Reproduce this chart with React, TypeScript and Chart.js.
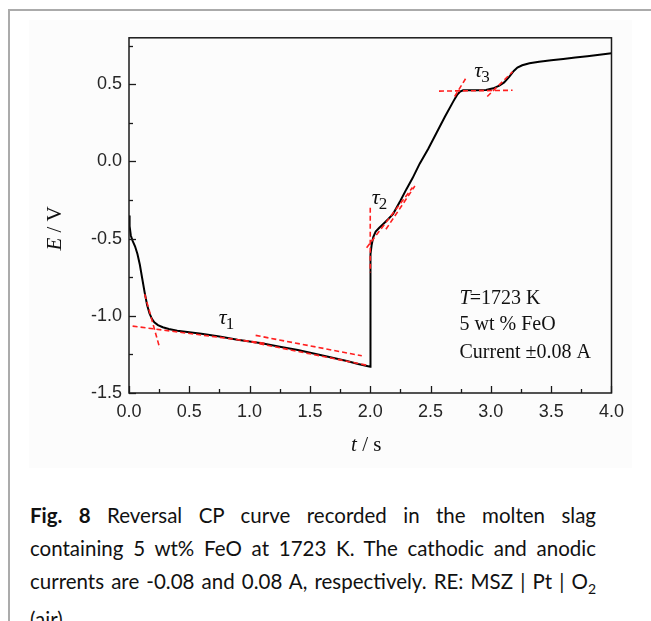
import React, { useEffect, useRef } from "react";
import { Chart, registerables } from "chart.js";

Chart.register(...registerables);

// ---- data ----
const timeS = [
  0.0, 0.005, 0.015, 0.03, 0.05, 0.07, 0.09, 0.11, 0.13, 0.15, 0.17, 0.19, 0.21, 0.24, 0.28, 0.33, 0.4, 0.5,
  0.6, 0.75, 0.9, 1.0, 1.1, 1.25, 1.4, 1.53, 1.66, 1.806, 1.9, 2.0,
  2.0, 2.004, 2.012, 2.025, 2.045, 2.075, 2.11, 2.15, 2.19, 2.25, 2.3, 2.35, 2.41, 2.48, 2.55, 2.62,
  2.69, 2.72, 2.745, 2.77, 2.8, 2.88, 2.96, 3.02, 3.07, 3.11, 3.15, 3.19, 3.22, 3.26, 3.32, 3.4, 3.5, 3.6, 3.7,
  3.8, 3.9, 4.0,
];
const potentialV = [
  -0.35, -0.42, -0.48, -0.515, -0.55, -0.6, -0.67, -0.76, -0.85, -0.93, -0.985, -1.02, -1.042, -1.06, -1.074,
  -1.085, -1.097, -1.107, -1.117, -1.134, -1.155, -1.166, -1.178, -1.2, -1.222, -1.244, -1.267, -1.293, -1.312,
  -1.33,
  -0.69, -0.6, -0.54, -0.49, -0.455, -0.43, -0.404, -0.373, -0.34, -0.255, -0.18, -0.11, -0.015, 0.08, 0.185,
  0.29, 0.39, 0.43, 0.452, 0.46, 0.461, 0.46, 0.462, 0.473, 0.49, 0.511, 0.545, 0.585, 0.607, 0.622, 0.635,
  0.645, 0.654, 0.663, 0.672, 0.681, 0.69, 0.7,
];

// red dashed tangent lines (start / end)
const tangentStartT = [0.13, 0.03, 0.95, 1.05, 2.0, 1.97, 2.13, 2.57, 2.7, 2.97];
const tangentStartE = [-0.86, -1.067, -1.16, -1.127, -0.3, -0.56, -0.44, 0.455, 0.42, 0.42];
const tangentEndT = [0.255, 1.15, 1.97, 1.93, 2.0, 2.35, 2.37, 3.18, 2.79, 3.18];
const tangentEndE = [-1.21, -1.18, -1.32, -1.259, -0.72, -0.17, -0.16, 0.46, 0.535, 0.58];

// transition-time labels
const tauSubs = ["1", "2", "3"];
const tauT = [0.745, 2.013, 2.863];
const tauE = [-1.053, -0.276, 0.543];

// conditions note
const noteLines = ["=1723 K", "5 wt % FeO", "Current \u00b10.08 A"];
const noteT = 2.74;
const noteE = [-0.925, -1.095, -1.271];

const xMajorTicks = [0, 0.5, 1, 1.5, 2, 2.5, 3, 3.5, 4];
const xMinorTicks = [0.25, 0.75, 1.25, 1.75, 2.25, 2.75, 3.25, 3.75];
const yMajorTicks = [-1.5, -1, -0.5, 0, 0.5];
const yMinorTicks = [-1.25, -0.75, -0.25, 0.25, 0.75];

const SERIF = "'Liberation Serif', 'Times New Roman', serif";
const SANS = "'Liberation Sans', Arial, sans-serif";

const framePlugin = {
  id: "frameTicks",
  afterDatasetsDraw(chart: any) {
    const { ctx, chartArea: a, scales } = chart;
    const x = scales.x;
    const y = scales.y;
    ctx.save();
    ctx.strokeStyle = "#1a1a1a";
    ctx.lineWidth = 1.5;
    ctx.strokeRect(a.left, a.top, a.right - a.left, a.bottom - a.top);
    ctx.lineWidth = 1.3;
    const tick = (v: number, len: number, isX: boolean) => {
      ctx.beginPath();
      if (isX) {
        const p = Math.round(x.getPixelForValue(v)) + 0.5;
        ctx.moveTo(p, a.bottom);
        ctx.lineTo(p, a.bottom - len);
      } else {
        const p = Math.round(y.getPixelForValue(v)) + 0.5;
        ctx.moveTo(a.left, p);
        ctx.lineTo(a.left + len, p);
      }
      ctx.stroke();
    };
    xMajorTicks.forEach((v) => tick(v, 7, true));
    xMinorTicks.forEach((v) => tick(v, 4, true));
    yMajorTicks.forEach((v) => tick(v, 7, false));
    yMinorTicks.forEach((v) => tick(v, 4, false));
    ctx.restore();
  },
};

const textPlugin = {
  id: "texts",
  afterDraw(chart: any) {
    const { ctx, chartArea: a, scales } = chart;
    const x = scales.x;
    const y = scales.y;
    ctx.save();
    ctx.fillStyle = "#111";
    ctx.textBaseline = "alphabetic";
    ctx.textAlign = "left";

    // tau labels
    tauSubs.forEach((s, i) => {
      const px = x.getPixelForValue(tauT[i]);
      const py = y.getPixelForValue(tauE[i]);
      ctx.font = `italic 22px ${SERIF}`;
      ctx.fillText("\u03c4", px, py);
      const w = ctx.measureText("\u03c4").width;
      ctx.font = `17px ${SERIF}`;
      ctx.fillText(s, px + w - 1, py + 5);
    });

    // note
    noteLines.forEach((line, i) => {
      const px = x.getPixelForValue(noteT);
      const py = y.getPixelForValue(noteE[i]);
      let off = 0;
      if (i === 0) {
        ctx.font = `italic 20px ${SERIF}`;
        ctx.fillText("T", px, py);
        off = ctx.measureText("T").width - 1;
      }
      ctx.font = `20px ${SERIF}`;
      ctx.fillText(line, px + off, py);
    });

    // y axis title (E / V)
    ctx.font = `italic 21px ${SERIF}`;
    const wE = ctx.measureText("E").width;
    ctx.font = `21px ${SERIF}`;
    const wRest = ctx.measureText(" / V").width;
    ctx.save();
    ctx.translate(a.left - 68, (a.top + a.bottom) / 2 + 13);
    ctx.rotate(-Math.PI / 2);
    const startY = -(wE + wRest) / 2;
    ctx.font = `italic 21px ${SERIF}`;
    ctx.fillText("E", startY, 0);
    ctx.font = `21px ${SERIF}`;
    ctx.fillText(" / V", startY + wE, 0);
    ctx.restore();

    // x axis title (t / s)
    ctx.font = `italic 21px ${SERIF}`;
    const wt = ctx.measureText("t").width;
    ctx.font = `21px ${SERIF}`;
    const ws = ctx.measureText(" / s").width;
    const cx = (a.left + a.right) / 2 - 4;
    const sx = cx - (wt + ws) / 2;
    const by = a.bottom + 58;
    ctx.font = `italic 21px ${SERIF}`;
    ctx.fillText("t", sx, by);
    ctx.font = `21px ${SERIF}`;
    ctx.fillText(" / s", sx + wt, by);
    ctx.restore();
  },
};

function CPChart() {
  const ref = useRef<HTMLCanvasElement | null>(null);
  useEffect(() => {
    if (!ref.current) return;
    const curve = timeS.map((t, i) => ({ x: t, y: potentialV[i] }));
    const tangents = tangentStartT.map((t, i) => ({
      data: [
        { x: t, y: tangentStartE[i] },
        { x: tangentEndT[i], y: tangentEndE[i] },
      ],
      showLine: true,
      borderColor: "#ff1f1f",
      borderWidth: 1.6,
      borderDash: [5, 3],
      pointRadius: 0,
      order: 0,
    }));
    const chart = new Chart(ref.current, {
      type: "scatter",
      data: {
        datasets: [
          ...tangents,
          {
            data: curve,
            showLine: true,
            borderColor: "#000",
            borderWidth: 2,
            pointRadius: 0,
            tension: 0,
            order: 1,
          },
        ],
      },
      options: {
        animation: false,
        responsive: false,
        devicePixelRatio: 1,
        layout: { padding: { top: 14, right: 20, left: 0, bottom: 0 } },
        plugins: { legend: { display: false }, tooltip: { enabled: false } },
        scales: {
          x: {
            type: "linear",
            min: 0,
            max: 4,
            grid: { display: false, drawTicks: false },
            border: { display: false },
            ticks: {
              stepSize: 0.5,
              padding: 8,
              color: "#262626",
              font: { family: SANS, size: 18 },
              callback: (v: any) => Number(v).toFixed(1),
            },
            afterFit: (s: any) => {
              s.height = 75;
            },
          },
          y: {
            type: "linear",
            min: -1.5,
            max: 0.8,
            grid: { display: false, drawTicks: false },
            border: { display: false },
            ticks: {
              stepSize: 0.5,
              padding: 7,
              color: "#262626",
              font: { family: SANS, size: 18 },
              callback: (v: any) => Number(v).toFixed(1),
            },
            afterBuildTicks: (s: any) => {
              s.ticks = yMajorTicks.map((v) => ({ value: v }));
            },
            afterFit: (s: any) => {
              s.width = 100;
            },
          },
        },
      },
      plugins: [framePlugin, textPlugin],
    } as any);
    return () => chart.destroy();
  }, []);
  return <canvas ref={ref} width={603} height={448} style={{ display: "block" }} />;
}

const captionStyle: React.CSSProperties = {
  fontFamily: "Lato, 'Open Sans', sans-serif",
  fontSize: 20.5,
  color: "#111",
  lineHeight: "33px",
  whiteSpace: "nowrap",
};
const justLine: React.CSSProperties = { textAlign: "justify", textAlignLast: "justify" };

export default function App() {
  return (
    <div
      style={{
        position: "fixed",
        left: 0,
        top: 0,
        width: 651,
        height: 621,
        overflow: "hidden",
        background: "#fff",
      }}
    >
      <div
        style={{
          position: "absolute",
          left: 8,
          top: 9,
          width: 720,
          height: 720,
          borderLeft: "2px solid #ababab",
          borderTop: "2px solid #ababab",
        }}
      />
      <div style={{ position: "absolute", left: 29, top: 20, width: 603, height: 448, background: "#fcfcfc" }}>
        <CPChart />
      </div>
      <div style={{ position: "absolute", left: 30, top: 499, width: 566, ...captionStyle }}>
        <div style={justLine}>
          <b>Fig. 8</b> Reversal CP curve recorded in the molten slag
        </div>
        <div style={justLine}>containing 5 wt% FeO at 1723 K. The cathodic and anodic</div>
        <div style={justLine}>
          currents are -0.08 and 0.08 A, respectively. RE: MSZ | Pt | O<sub style={{ fontSize: 14, lineHeight: 0 }}>2</sub>
        </div>
        <div style={{ paddingTop: 5 }}>(air).</div>
      </div>
    </div>
  );
}
